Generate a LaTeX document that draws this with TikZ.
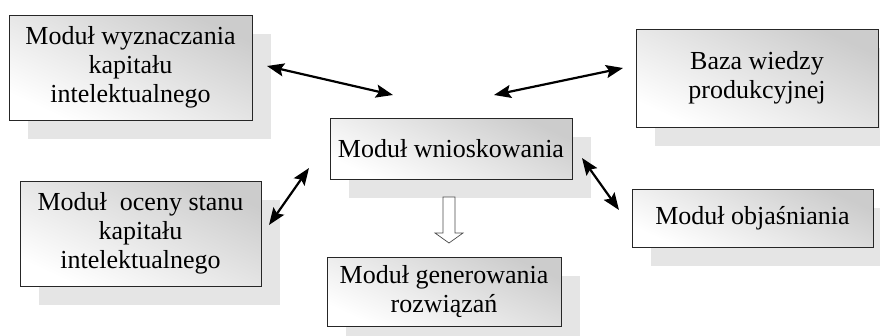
\documentclass[tikz,border=0pt]{standalone}
\usepackage{fontspec}
\setmainfont{Liberation Serif}
\usetikzlibrary{calc,shadows,arrows.meta}

\tikzset{
  module/.style={draw=black!85, line width=0.8pt, anchor=north west, align=center,
    inner sep=0pt, outer sep=0pt,
    top color=gray!40, bottom color=white, shading angle=-25,
    drop shadow={shadow xshift=19pt, shadow yshift=-19pt, fill=gray!20, opacity=1, draw=none},
    font=\fontsize{26}{29}\selectfont},
  link/.style={line width=2.2pt, {Stealth[length=17pt,width=13pt,inset=3pt]}-{Stealth[length=17pt,width=13pt,inset=3pt]}},
  flow/.style={draw=black!70, line width=0.7pt, fill=white, line join=miter},
}

\begin{document}
\begin{tikzpicture}[x=1pt,y=-1pt]
\useasboundingbox (0,0) rectangle (880,335);

% modules
\node[module, minimum width=243pt, minimum height=105pt] (cap) at (9,15)
  {Moduł wyznaczania\\kapitału\\intelektualnego};
\node[module, minimum width=242pt, minimum height=98pt] (base) at (636,29)
  {Baza wiedzy\\produkcyjnej};
\node[module, minimum width=242pt, minimum height=61pt] (infer) at (330,118)
  {Moduł wnioskowania};
\node[module, minimum width=241pt, minimum height=105pt] (eval) at (20,181)
  {Moduł\ \ oceny stanu\\kapitału\\intelektualnego};
\node[module, minimum width=241pt, minimum height=58pt] (expl) at (632,189)
  {Moduł objaśniania};
\node[module, minimum width=234pt, minimum height=69pt] (gen) at (327,257)
  {Moduł generowania\\rozwiązań};

% two-way links to the inference module
\draw[link] ($(cap.east)+(15,-1.5)$) -- ($(infer.north west)+(63,-23)$);
\draw[link] ($(infer.north east)+(-78,-23)$) -- ($(base.west)+(-13,-10)$);
\draw[link] ($(infer.west)+(-21,19.5)$) -- ($(eval.east)+(8,-8.5)$);
\draw[link] ($(infer.east)+(10,9.5)$) -- ($(expl.west)+(-13,-8)$);

% hollow arrow towards the solution generator
\coordinate (flowtop) at ($(infer.south)+(-2,18)$);
\draw[flow] ($(flowtop)+(-6,0)$) -- ++(12,0) -- ++(0,36) -- ++(8,0)
  -- ++(-14,10) -- ++(-14,-10) -- ++(8,0) -- cycle;
\end{tikzpicture}
\end{document}
